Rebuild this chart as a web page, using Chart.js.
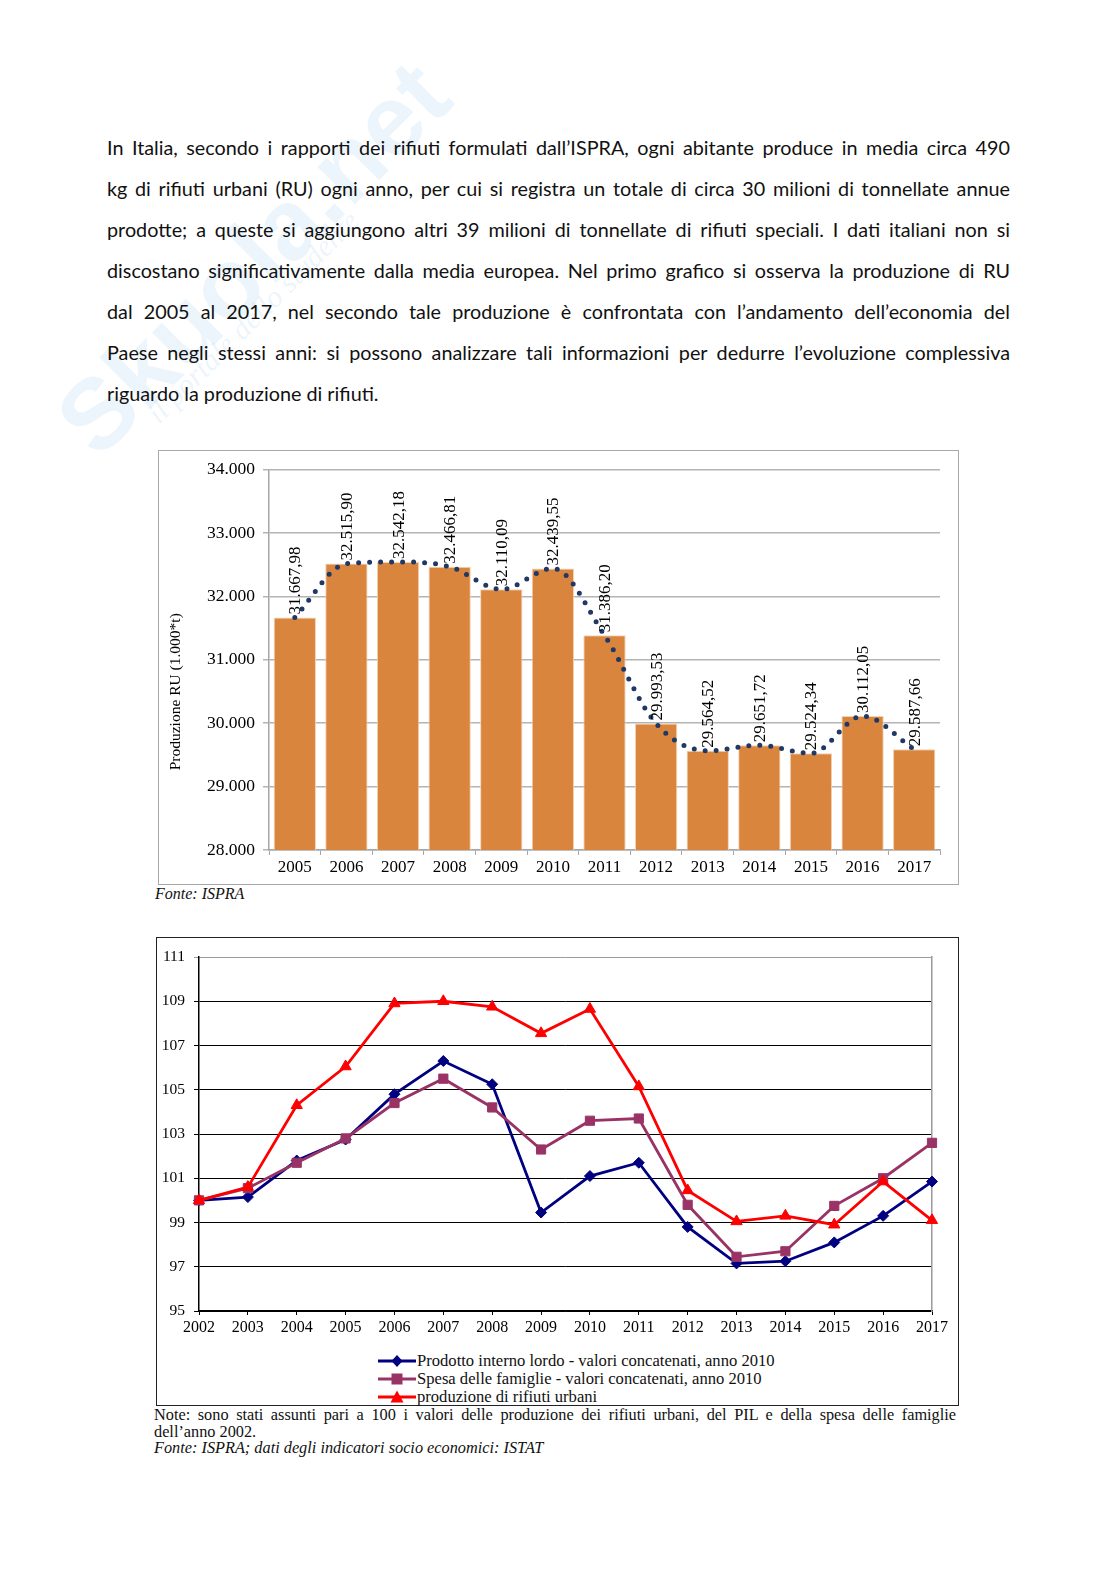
<!DOCTYPE html>
<html lang="it">
<head>
<meta charset="utf-8">
<script src="https://cdn.jsdelivr.net/npm/chart.js@4"></script>
<style>
  body { margin: 0; background: #fff; }
  #pagina { position: relative; width: 1116px; height: 1579px; overflow: hidden; }
  .serif { font-family: "Liberation Serif", "Times New Roman", serif; }
  #filigrana { position: absolute; left: 0px; top: 200px; transform: rotate(-45deg); color: rgba(110, 175, 230, 0.13);
    font: bold 100px "Liberation Sans", Arial, sans-serif; white-space: nowrap; z-index: 0; }
  #filigrana2 { position: absolute; left: 110px; top: 300px; transform: rotate(-45deg); color: rgba(110, 175, 230, 0.14);
    font: italic 30px "Liberation Serif", serif; white-space: nowrap; z-index: 0; }
  #testo { position: absolute; left: 107px; top: 127px; width: 903px; font-family: Lato, "Open Sans", sans-serif;
    font-size: 19.8px; line-height: 41px; color: #111; z-index: 1; }
  #testo div { text-align: justify; text-align-last: justify; white-space: nowrap; }
  #testo div.ultima { text-align-last: left; }
  #box1 { position: absolute; left: 158px; top: 450px; width: 799px; height: 433px; border: 1px solid #a8a8a8; background: #fff; z-index: 1; }
  #box2 { position: absolute; left: 156px; top: 937px; width: 801px; height: 467px; border: 1px solid #222; background: #fff; z-index: 1; }
  .fonte { position: absolute; font-style: italic; font-size: 16px; color: #111; }
  #legenda { position: absolute; left: 221px; top: 414px; font-size: 16.6px; color: #111; }
  #legenda .voce { height: 18px; display: flex; align-items: center; }
  #legenda svg { margin-right: 1px; }
  #nota { position: absolute; left: 154px; top: 1407px; width: 802px; font-size: 16.3px; line-height: 16.5px; color: #111; }
  #nota .g { text-align: justify; text-align-last: justify; white-space: nowrap; }
</style>
</head>
<body>
<div id="pagina">
  <div id="filigrana">Skuola.net</div>
  <div id="filigrana2">il portale dello studente</div>

  <div id="testo">
    <div>In Italia, secondo i rapporti dei rifiuti formulati dall’ISPRA, ogni abitante produce in media circa 490</div>
    <div>kg di rifiuti urbani (RU) ogni anno, per cui si registra un totale di circa 30 milioni di tonnellate annue</div>
    <div>prodotte; a queste si aggiungono altri 39 milioni di tonnellate di rifiuti speciali. I dati italiani non si</div>
    <div>discostano significativamente dalla media europea. Nel primo grafico si osserva la produzione di RU</div>
    <div>dal 2005 al 2017, nel secondo tale produzione è confrontata con l’andamento dell’economia del</div>
    <div>Paese negli stessi anni: si possono analizzare tali informazioni per dedurre l’evoluzione complessiva</div>
    <div class="ultima">riguardo la produzione di rifiuti.</div>
  </div>

  <div id="box1"><canvas id="graficoRU" width="799" height="433"></canvas></div>
  <div class="fonte serif" style="left:155px; top:885px;">Fonte: ISPRA</div>

  <div id="box2" class="serif">
    <canvas id="graficoIndici" width="801" height="400"></canvas>
    <div id="legenda"></div>
  </div>

  <div id="nota" class="serif">
    <div class="g">Note: sono stati assunti pari a 100 i valori delle produzione dei rifiuti urbani, del PIL e della spesa delle famiglie</div>
    <div>dell’anno 2002.</div>
    <div style="font-style: italic;">Fonte: ISPRA; dati degli indicatori socio economici: ISTAT</div>
  </div>
</div>

<script>
// primo grafico: produzione RU (1.000*t)
const anniRU = ["2005", "2006", "2007", "2008", "2009", "2010", "2011", "2012", "2013", "2014", "2015", "2016", "2017"];
const produzioneRU = [31667.98, 32515.90, 32542.18, 32466.81, 32110.09, 32439.55, 31386.20, 29993.53, 29564.52, 29651.72, 29524.34, 30112.05, 29587.66];
const tickRU = { min: 28000, max: 34000, step: 1000 };
const titoloAsseRU = "Produzione RU (1.000*t)";

// secondo grafico: indici 2002 = 100
const anniIndici = ["2002", "2003", "2004", "2005", "2006", "2007", "2008", "2009", "2010", "2011", "2012", "2013", "2014", "2015", "2016", "2017"];
const pil = [100, 100.15, 101.8, 102.75, 104.8, 106.3, 105.25, 99.45, 101.1, 101.7, 98.8, 97.15, 97.25, 98.1, 99.3, 100.85];
const spesaFamiglie = [100, 100.55, 101.7, 102.8, 104.4, 105.5, 104.2, 102.3, 103.6, 103.7, 99.8, 97.45, 97.7, 99.75, 101.0, 102.6];
const rifiutiUrbani = [100, 100.6, 104.3, 106.05, 108.9, 109.0, 108.75, 107.55, 108.65, 105.15, 100.45, 99.05, 99.3, 98.9, 100.85, 99.1];
const tickIndici = { min: 95, max: 111, step: 2 };
const nomiSerie = [
  "Prodotto interno lordo - valori concatenati, anno 2010",
  "Spesa delle famiglie - valori concatenati, anno 2010",
  "produzione di rifiuti urbani"
];

const SERIF = '"Liberation Serif", "Times New Roman", serif';
Chart.defaults.font.family = SERIF;
Chart.defaults.color = "#000";

function formatIt(v, dec) {
  const parts = Number(v).toFixed(dec).split(".");
  const intero = parts[0].replace(/\B(?=(\d{3})+(?!\d))/g, ".");
  return parts[1] ? intero + "," + parts[1] : intero;
}

// etichette ruotate sopra le barre + titolo asse y (un po' spostato in basso come nell'originale)
const etichetteBarre = {
  id: "etichetteBarre",
  afterDatasetsDraw(chart) {
    const meta = chart.getDatasetMeta(1);
    const ctx = chart.ctx;
    ctx.save();
    ctx.font = "17px " + SERIF;
    ctx.fillStyle = "#000";
    ctx.textAlign = "left";
    ctx.textBaseline = "middle";
    meta.data.forEach((bar, i) => {
      ctx.save();
      ctx.translate(bar.x + 1, bar.y - 3);
      ctx.rotate(-Math.PI / 2);
      ctx.fillText(formatIt(produzioneRU[i], 2), 0, 0);
      ctx.restore();
    });
    const area = chart.chartArea;
    ctx.translate(17, (area.top + area.bottom) / 2 + 32);
    ctx.rotate(-Math.PI / 2);
    ctx.textAlign = "center";
    ctx.font = "15.5px " + SERIF;
    ctx.fillText(titoloAsseRU, 0, 0);
    ctx.restore();
  }
};

new Chart(document.getElementById("graficoRU"), {
  type: "bar",
  data: {
    labels: anniRU,
    datasets: [
      {
        type: "line",
        data: produzioneRU,
        borderColor: "#1F3864",
        borderWidth: 5,
        borderDash: [0, 11],
        borderCapStyle: "round",
        pointRadius: 0,
        cubicInterpolationMode: "monotone",
        order: 0
      },
      {
        type: "bar",
        data: produzioneRU,
        backgroundColor: "#DA853D",
        borderColor: "#F3D2B2",
        borderWidth: 1,
        barPercentage: 0.82,
        categoryPercentage: 1,
        order: 1
      }
    ]
  },
  options: {
    responsive: false,
    animation: false,
    layout: { padding: { top: 15, right: 18 } },
    plugins: { legend: { display: false }, tooltip: { enabled: false } },
    scales: {
      x: {
        grid: { offset: true, drawOnChartArea: false, tickLength: 5, color: "#a6a6a6" },
        border: { color: "#a6a6a6", width: 1.5 },
        ticks: { font: { size: 17 }, padding: 2 },
        afterFit: (s) => { s.height = 34; }
      },
      y: {
        min: tickRU.min,
        max: tickRU.max,
        ticks: { stepSize: tickRU.step, callback: (v) => formatIt(v, 0), font: { size: 17.5 }, padding: 8 },
        grid: { color: "#b4b4b4", lineWidth: 1.5, tickLength: 6 },
        border: { color: "#a6a6a6", width: 1.5 },
        afterFit: (s) => { s.width = 110; }
      }
    }
  },
  plugins: [etichetteBarre]
});

const stili = [
  { colore: "#000080", punto: "rectRot", raggio: 5.5 },
  { colore: "#993366", punto: "rect", raggio: 6.5 },
  { colore: "#FF0000", punto: "triangle", raggio: 6.5 }
];
const serie = [pil, spesaFamiglie, rifiutiUrbani];

new Chart(document.getElementById("graficoIndici"), {
  type: "line",
  data: {
    labels: anniIndici,
    datasets: serie.map((d, i) => ({
      label: nomiSerie[i],
      data: d,
      borderColor: stili[i].colore,
      backgroundColor: stili[i].colore,
      borderWidth: 2.8,
      pointStyle: stili[i].punto,
      pointRadius: stili[i].raggio,
      pointBorderWidth: 1,
      tension: 0,
      order: 2 - i
    }))
  },
  options: {
    responsive: false,
    animation: false,
    layout: { padding: { top: 19, right: 26 } },
    plugins: { legend: { display: false }, tooltip: { enabled: false } },
    scales: {
      x: {
        offset: false,
        grid: { drawOnChartArea: false, tickLength: 4, color: "#000" },
        border: { color: "#000", width: 1.5 },
        ticks: { font: { size: 16 }, padding: 3, maxRotation: 0, autoSkip: false },
        afterFit: (s) => { s.height = 27; }
      },
      y: {
        min: tickIndici.min,
        max: tickIndici.max,
        ticks: { stepSize: tickIndici.step, font: { size: 15.5 }, padding: 9 },
        grid: {
          color: (c) => (c.tick && c.tick.value === tickIndici.max ? "#9a9a9a" : "#000"),
          lineWidth: 1,
          tickLength: 5
        },
        border: { color: "#000", width: 1.5 },
        afterFit: (s) => { s.width = 42; }
      },
      y2: {
        position: "right",
        min: tickIndici.min,
        max: tickIndici.max,
        ticks: { display: false },
        grid: { drawOnChartArea: false, drawTicks: false },
        border: { color: "#9a9a9a", width: 1.5 },
        afterFit: (s) => { s.width = 0; }
      }
    }
  }
});

// legenda del secondo grafico
function simbolo(stile) {
  const c = stile.colore;
  let m = "";
  if (stile.punto === "rectRot") m = `<polygon points="19,3 24.5,9 19,15 13.5,9" fill="${c}"/>`;
  else if (stile.punto === "rect") m = `<rect x="13.5" y="3.5" width="11" height="11" fill="${c}"/>`;
  else m = `<polygon points="19,2.5 25.5,14.5 12.5,14.5" fill="${c}"/>`;
  return `<svg width="38" height="18"><line x1="0" y1="9" x2="38" y2="9" stroke="${c}" stroke-width="2.8"/>${m}</svg>`;
}
document.getElementById("legenda").innerHTML = nomiSerie
  .map((n, i) => `<div class="voce">${simbolo(stili[i])}<span>${n}</span></div>`)
  .join("");
</script>
</body>
</html>
